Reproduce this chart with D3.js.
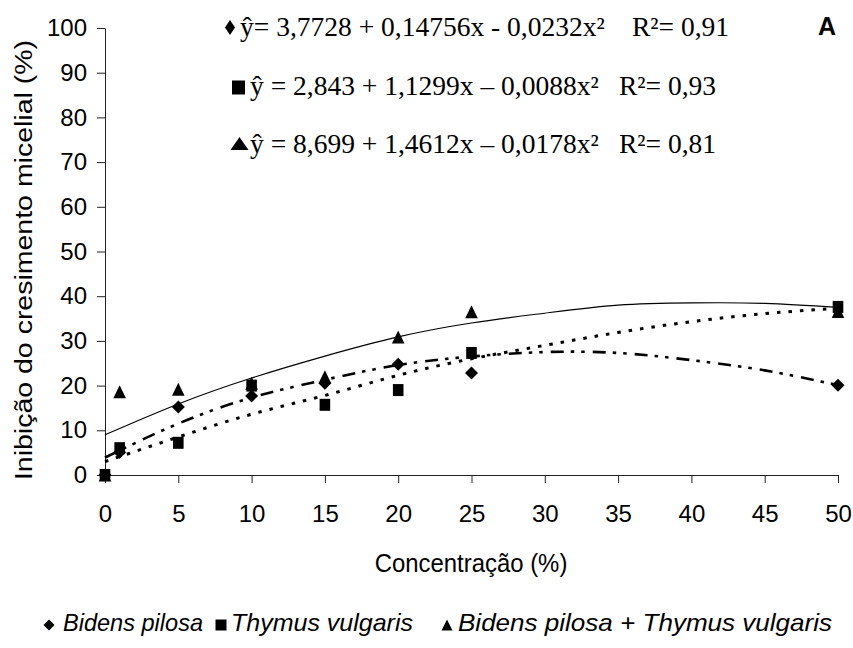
<!DOCTYPE html>
<html>
<head>
<meta charset="utf-8">
<script src="https://cdn.jsdelivr.net/npm/d3@7"></script>
<style>
  body { margin: 0; background: #fff; }
  svg { display: block; }
</style>
</head>
<body>
<script>
// Observed data (concentration %, inhibition %)
var concentration = [0, 1, 5, 10, 15, 20, 25, 50];
var bidens = [0, 5.1, 15.2, 17.7, 20.5, 24.8, 22.8, 20.1];
var thymus = [0, 6.0, 7.2, 20.0, 15.7, 19.0, 27.3, 37.6];
var mix = [0, 18.6, 19.2, 20.5, 22.0, 30.9, 36.5, 36.6];

// Trend curves
var trendX = [0, 5, 10, 15, 20, 25, 30, 35, 40, 45, 50];
var bidensTrend = [3.9, 11.5, 17.3, 21.3, 24.6, 26.5, 27.5, 27.3, 25.7, 23.4, 20.1];
var thymusTrend = [3.0, 8.5, 13.6, 17.8, 22.3, 26.0, 29.0, 31.9, 34.3, 36.1, 37.3];
var mixTrend = [9.0, 15.9, 21.7, 26.6, 30.9, 34.0, 36.2, 38.0, 38.5, 38.4, 37.5];

var xTicks = [0, 5, 10, 15, 20, 25, 30, 35, 40, 45, 50];
var yTicks = [0, 10, 20, 30, 40, 50, 60, 70, 80, 90, 100];

var equations = [
  { marker: "diamond", eq: "ŷ= 3,7728 + 0,14756x - 0,0232x²", r2: "R²= 0,91" },
  { marker: "square", eq: "ŷ = 2,843 + 1,1299x – 0,0088x²", r2: "R²= 0,93" },
  { marker: "triangle", eq: "ŷ = 8,699 + 1,4612x – 0,0178x²", r2: "R²= 0,81" }
];
var legendNames = ["Bidens pilosa", "Thymus vulgaris", "Bidens pilosa + Thymus vulgaris"];

var width = 853,
    height = 648;

var svg = d3.select("body").append("svg")
    .attr("width", width)
    .attr("height", height);

var x = d3.scaleLinear().domain([0, 50]).range([105, 838]);
var y = d3.scaleLinear().domain([0, 100]).range([475, 28]);

// marker shapes, w and h are full width / height
function markerPath(type, w, h) {
  var a = w / 2, b = h / 2;
  if (type == "diamond") return `M0,${-b}L${a},0L0,${b}L${-a},0Z`;
  if (type == "square") return `M${-a},${-b}H${a}V${b}H${-a}Z`;
  return `M0,${-b}L${a},${b}L${-a},${b}Z`;
}
var plotSize = { diamond: [13, 13], square: [10.6, 12], triangle: [12.6, 13] };

// AXES
svg.append("g")
    .attr("transform", "translate(105,0)")
    .call(d3.axisLeft(y).tickValues(yTicks).tickSize(8).tickSizeOuter(0).tickPadding(10));

svg.append("g")
    .attr("transform", "translate(0,475)")
    .call(d3.axisBottom(x).tickValues(xTicks).tickSize(8).tickSizeOuter(0).tickPadding(22));

svg.selectAll(".domain, .tick line")
    .attr("stroke", "#222")
    .attr("stroke-width", 1);

svg.selectAll(".tick text")
    .style("font", "24px 'Liberation Sans', Arial, sans-serif")
    .attr("fill", "#000");

// axis titles
svg.append("text")
    .attr("transform", "translate(471,572) scale(0.92,1)")
    .attr("text-anchor", "middle")
    .style("font", "26px 'Liberation Sans', Arial, sans-serif")
    .text("Concentração (%)");

svg.append("text")
    .attr("transform", "translate(32,260) scale(0.87,1) rotate(-90)")
    .attr("text-anchor", "middle")
    .style("font", "28.5px 'Liberation Sans', Arial, sans-serif")
    .text("Inibição do cresimento micelial (%)");

// TREND LINES
var line = d3.line()
    .x((d, i) => x(trendX[i]))
    .y(d => y(d))
    .curve(d3.curveNatural);

svg.append("path")
    .attr("d", line(mixTrend))
    .attr("fill", "none")
    .attr("stroke", "#000")
    .attr("stroke-width", 1.1);

svg.append("path")
    .attr("d", line(thymusTrend))
    .attr("fill", "none")
    .attr("stroke", "#000")
    .attr("stroke-width", 3)
    .attr("stroke-dasharray", "3.5,8");

svg.append("path")
    .attr("d", line(bidensTrend))
    .attr("fill", "none")
    .attr("stroke", "#000")
    .attr("stroke-width", 2.6)
    .attr("stroke-dasharray", "13,7,3.5,7,3.5,8");

// POINTS
var series = [
  { type: "triangle", values: mix },
  { type: "diamond", values: bidens },
  { type: "square", values: thymus }
];

series.forEach(s => {
  svg.append("g").selectAll("path")
    .data(s.values)
    .join("path")
      .attr("transform", (d, i) => `translate(${x(concentration[i])},${y(d)})`)
      .attr("d", markerPath(s.type, plotSize[s.type][0], plotSize[s.type][1]))
      .attr("fill", "#000");
});

// EQUATIONS
var eqX = [240, 250, 250],
    eqBase = [36, 95, 153],
    r2X = [632, 619, 619],
    markX = [230, 238.5, 239.5],
    markY = [27.5, 87.5, 143.5],
    markSize = [[10, 15], [13, 14], [18, 13]];

equations.forEach((e, i) => {
  svg.append("path")
      .attr("transform", `translate(${markX[i]},${markY[i]})`)
      .attr("d", markerPath(e.marker, markSize[i][0], markSize[i][1]))
      .attr("fill", "#000");
  svg.append("text")
      .attr("x", eqX[i])
      .attr("y", eqBase[i])
      .style("font", "27.5px 'Liberation Serif', 'Times New Roman', serif")
      .text(e.eq);
  svg.append("text")
      .attr("x", r2X[i])
      .attr("y", eqBase[i])
      .style("font", "27.5px 'Liberation Serif', 'Times New Roman', serif")
      .text(e.r2);
});

svg.append("text")
    .attr("x", 818)
    .attr("y", 35)
    .style("font", "bold 25px 'Liberation Sans', Arial, sans-serif")
    .text("A");

// LEGEND
var legX = [49, 221, 447],
    legTextX = [63, 231, 458],
    legTextW = [140, 182, 374],
    legTypes = ["diamond", "square", "triangle"];

legendNames.forEach((name, i) => {
  svg.append("path")
      .attr("transform", `translate(${legX[i]},625)`)
      .attr("d", markerPath(legTypes[i], 11, 11))
      .attr("fill", "#000");
  svg.append("text")
      .attr("x", legTextX[i])
      .attr("y", 631)
      .attr("textLength", legTextW[i])
      .attr("lengthAdjust", "spacingAndGlyphs")
      .style("font", "italic 24px 'Liberation Sans', Arial, sans-serif")
      .text(name);
});
</script>
</body>
</html>
